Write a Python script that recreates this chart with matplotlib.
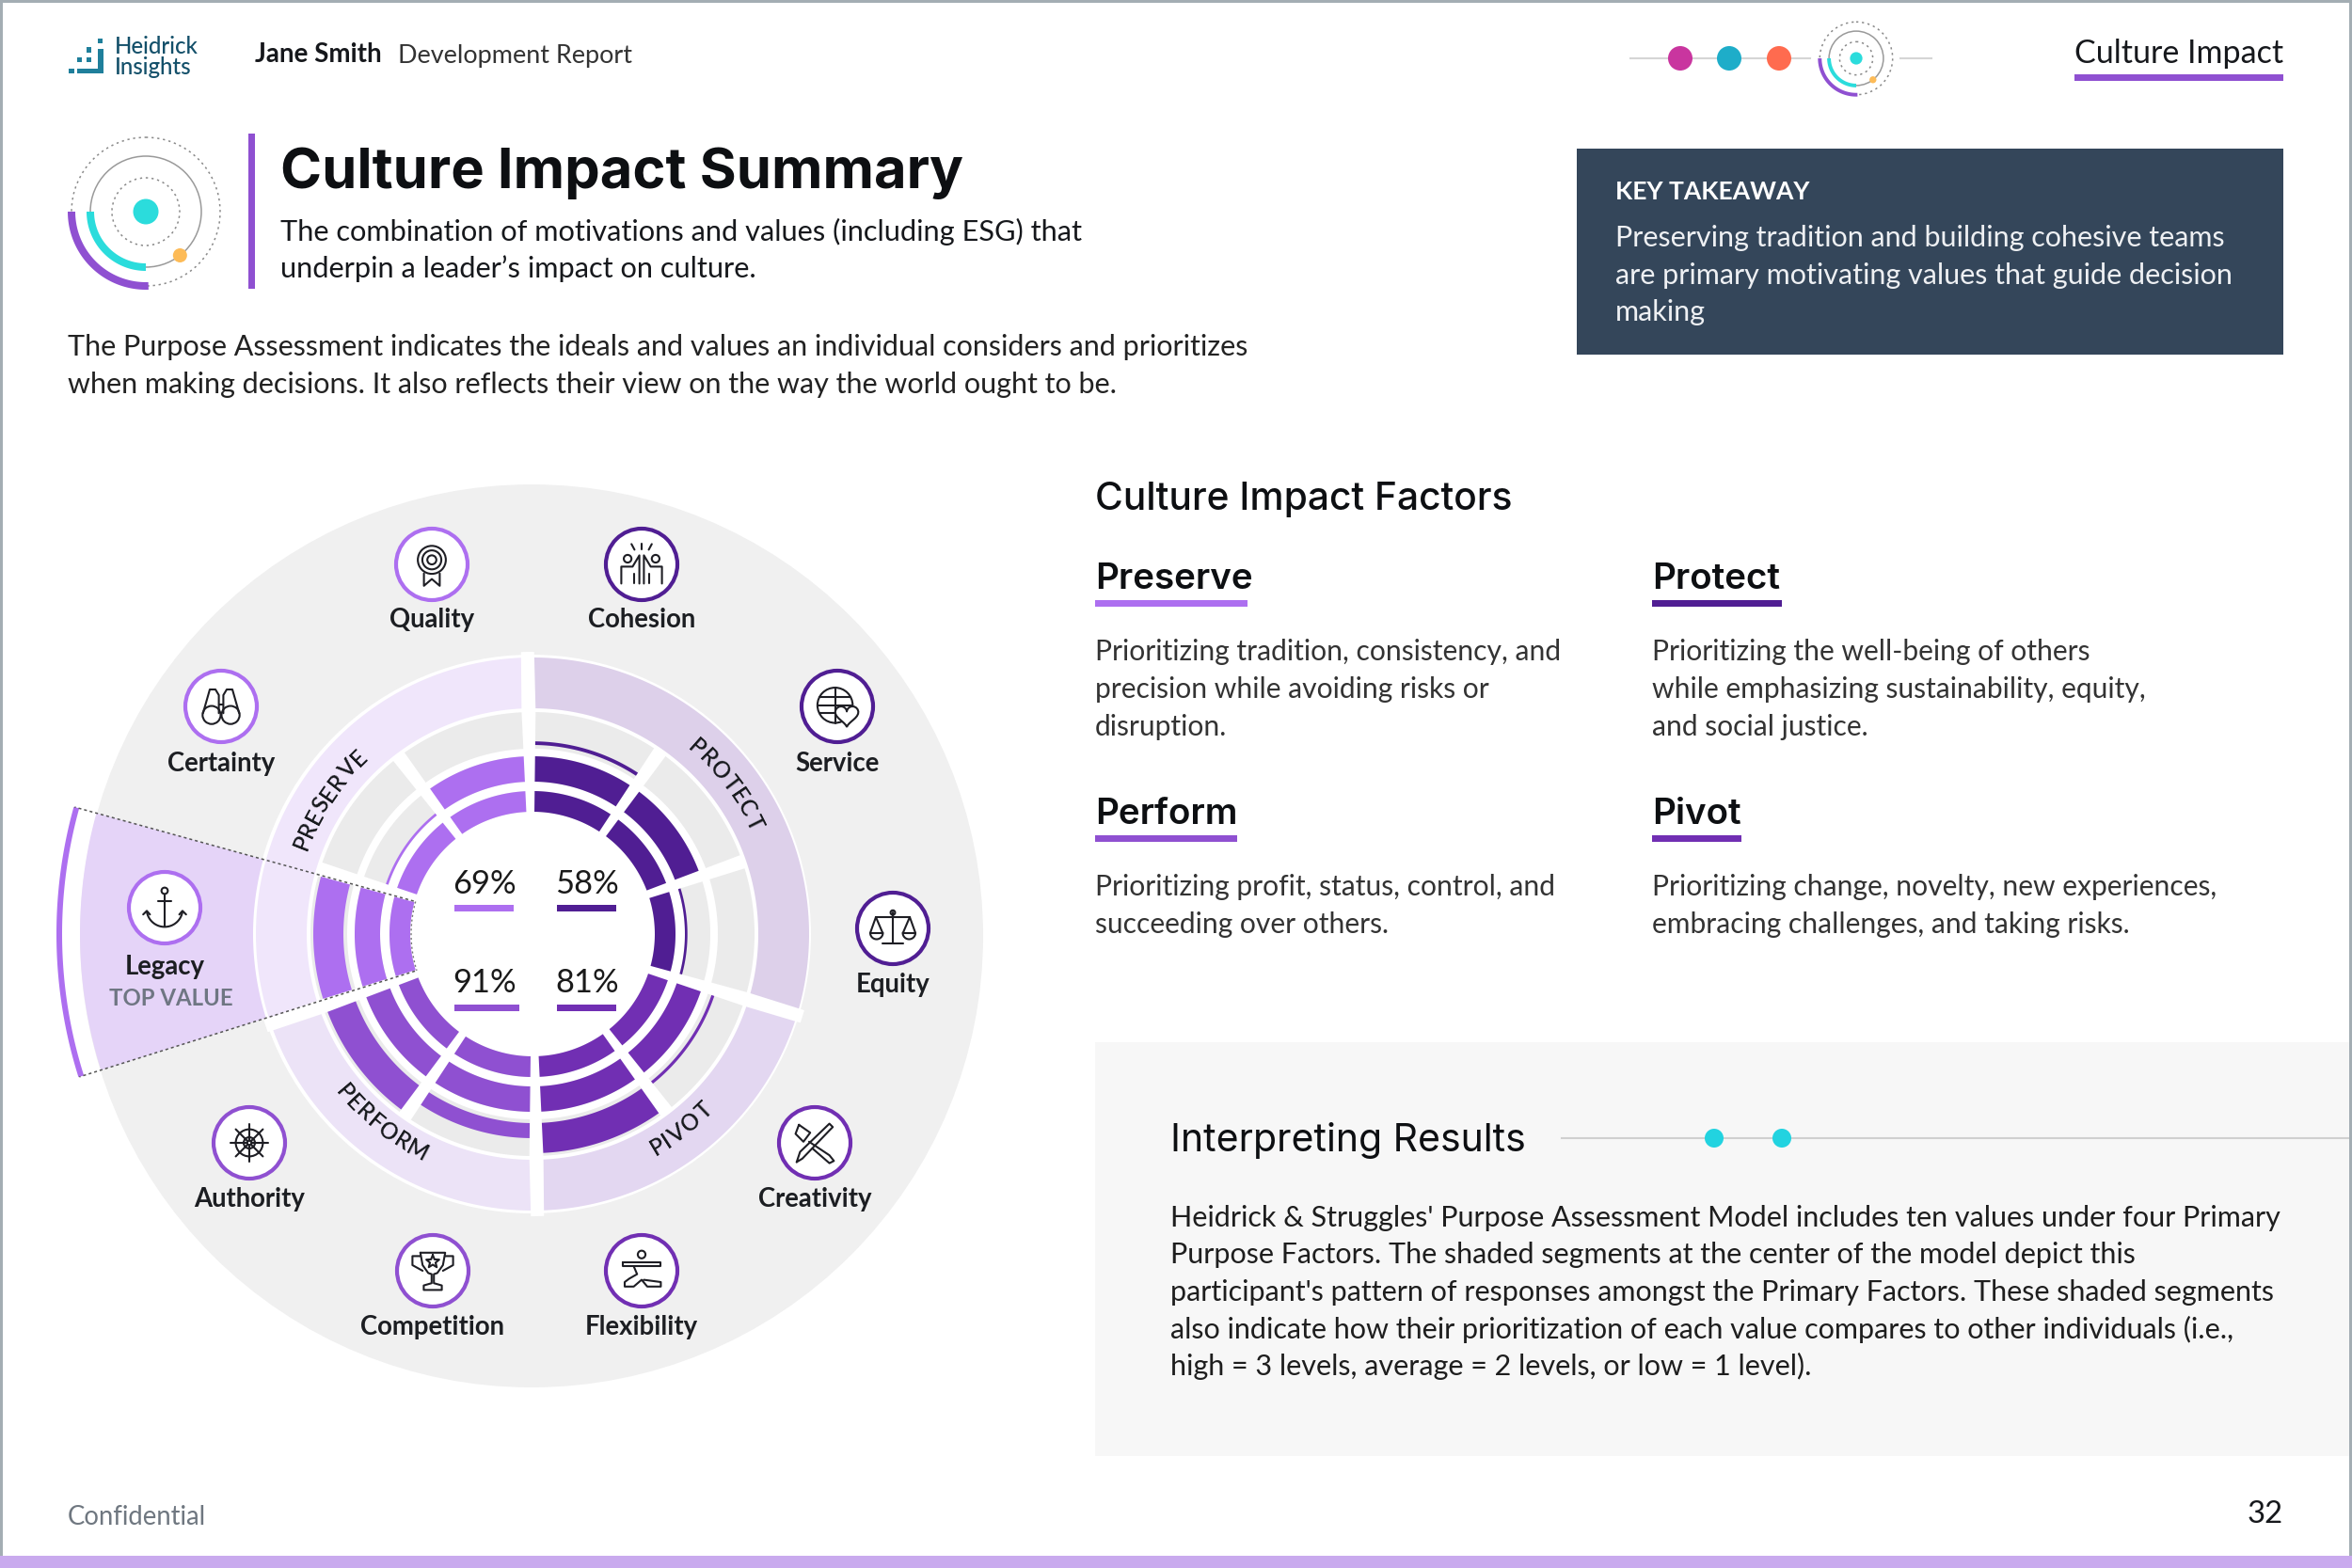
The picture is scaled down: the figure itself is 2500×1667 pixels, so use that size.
import numpy as np
import matplotlib
matplotlib.use('Agg')
import matplotlib.pyplot as plt
from matplotlib.patches import Circle, Rectangle
from matplotlib.font_manager import FontProperties
from matplotlib.textpath import TextPath

# factors, clockwise from the top
factors = ['PROTECT', 'PIVOT', 'PERFORM', 'PRESERVE']
factor_scores = [58, 81, 91, 69]
factor_sizes = [3, 2, 2, 3]   # number of values in each factor

# values clockwise from the top, with how full each of the 3 rings is
values = ['Cohesion', 'Service', 'Equity', 'Creativity', 'Flexibility',
          'Competition', 'Authority', 'Legacy', 'Certainty', 'Quality']
ring1 = [1, 1, 1, 1, 1, 1, 1, 1, 1, 1]
ring2 = [1, 1, 0.1, 1, 1, 1, 1, 1, 0.1, 1]
ring3 = [0.12, 0, 0, 0.1, 1, 0.5, 1, 1, 0, 0]

C_FACTOR = {'PROTECT': '#501e93', 'PIVOT': '#712fb3', 'PERFORM': '#8f50d1', 'PRESERVE': '#ad6ff0'}
C_BAND = {'PROTECT': '#ddd0ea', 'PIVOT': '#e3d7f1', 'PERFORM': '#ece3f7', 'PRESERVE': '#f0e6fb'}
INK = '#16181c'
BODY = 'Lato'
HEAD = 'Inter'
TEAL = '#2bdcdc'
ORANGE = '#fdbb57'
PURPLE = '#8f50d1'

fig = plt.figure(figsize=(25, 16.67), dpi=100)
ax = fig.add_axes([0, 0, 1, 1])
ax.set_xlim(0, 2500)
ax.set_ylim(1667, 0)
ax.axis('off')

CX, CY = 566, 993


def pt(r, deg, cx=CX, cy=CY):
    a = np.radians(deg)
    return cx + r * np.cos(a), cy - r * np.sin(a)


def band(r0, r1, a0, a1, color, z=2, cx=CX, cy=CY):
    th = np.linspace(a0, a1, 80)
    x0, y0 = pt(r0, th, cx, cy)
    x1, y1 = pt(r1, th[::-1], cx, cy)
    ax.fill(np.r_[x0, x1], np.r_[y0, y1], color=color, lw=0, zorder=z)


def txt(x, y, s, px, color=INK, family=BODY, weight='normal', ha='left', **kw):
    # text sits about 2px lower than its nominal centre in the reference
    ax.text(x, y + 2, s, fontsize=px * 0.72, color=color, family=family, weight=weight,
            ha=ha, va='center', **kw)


def gap(a, r0, w0, r1, w1):
    # white tapered spoke between two segments
    n = np.array([np.sin(np.radians(a)), np.cos(np.radians(a))])
    p0 = np.array(pt(r0, a))
    p1 = np.array(pt(r1, a))
    q = np.array([p0 + n * w0 / 2, p1 + n * w1 / 2, p1 - n * w1 / 2, p0 - n * w0 / 2])
    ax.fill(q[:, 0], q[:, 1], color='white', lw=0, zorder=5)


def orbit(cx, cy, k):
    for r, ls, col in [(79 * k, (0, (1.5, 2.5)), '#8a8a8a'), (59 * k, '-', '#9a9a9a'), (36 * k, (0, (1.5, 2.5)), '#8a8a8a')]:
        ax.add_patch(Circle((cx, cy), r, fill=False, ec=col, lw=1.1, ls=ls, zorder=3))
    band(75 * k, 83 * k, 180, 272, PURPLE, 4, cx, cy)
    band(55 * k, 63 * k, 180, 270, TEAL, 4, cx, cy)
    ax.add_patch(Circle((cx, cy), 13.5 * k, color=TEAL, lw=0, zorder=4))
    x, y = pt(59 * k, -52, cx, cy)
    ax.add_patch(Circle((x, y), 7.5 * k, color=ORANGE, lw=0, zorder=4))


# page frame
ax.add_patch(Rectangle((0, 0), 2500, 1667, fc='white', ec='none', zorder=0))
for r in [(0, 0, 2500, 3), (0, 0, 3, 1667), (2497, 0, 3, 1667)]:
    ax.add_patch(Rectangle(r[:2], r[2], r[3], fc='#a3adb3', ec='none', zorder=9))
ax.add_patch(Rectangle((0, 1654), 2500, 13, fc='#c9aaee', ec='none', zorder=9))

# header
for x, y, w, h in [(73, 73, 6, 5), (82, 73, 28, 5), (104, 52, 6, 26), (104, 41, 5, 5),
                   (92, 50, 5, 6), (82, 61, 5, 5), (92, 61, 5, 5)]:
    ax.add_patch(Rectangle((x, y), w, h, fc='#1f7f9b', ec='none', zorder=3))
txt(122, 47, 'Heidrick', 24, color='#14506a', weight='medium')
txt(122, 69, 'Insights', 24, color='#14506a', weight='medium')
txt(271, 56, 'Jane Smith', 27.8, weight='bold')
txt(423, 57, 'Development Report', 27, color='#333333')
ax.plot([1733, 1924], [62, 62], color='#d5d5d5', lw=1.5, zorder=1)
ax.plot([2020, 2053], [62, 62], color='#d5d5d5', lw=1.5, zorder=1)
for x, c in zip([1786, 1838, 1891], ['#c9359f', '#1eadc9', '#ff6b4f']):
    ax.add_patch(Circle((x, 62), 13, color=c, lw=0, zorder=3))
orbit(1973, 62, 0.49)
txt(2427, 55, 'Culture Impact', 34, ha='right')
ax.add_patch(Rectangle((2205, 79), 222, 7, fc=PURPLE, ec='none'))

# title block
orbit(155, 225, 1)
ax.add_patch(Rectangle((264, 142), 7, 165, fc=PURPLE, ec='none'))
txt(298, 182, 'Culture Impact Summary', 59.7, family=HEAD, weight='bold', color='#0d0f12')
txt(298, 244, 'The combination of motivations and values (including ESG) that', 30.75)
txt(298, 284, 'underpin a leader’s impact on culture.', 30.75)
txt(72, 367, 'The Purpose Assessment indicates the ideals and values an individual considers and prioritizes', 30.5, color='#222222')
txt(72, 407, 'when making decisions. It also reflects their view on the way the world ought to be.', 30.5, color='#222222')

# key takeaway
ax.add_patch(Rectangle((1676, 158), 751, 219, fc='#34465a', ec='none'))
txt(1717, 202, 'KEY TAKEAWAY', 26.5, color='white', weight='bold')
for y, s in zip([251, 291, 330], ['Preserving tradition and building cohesive teams',
                                  'are primary motivating values that guide decision',
                                  'making']):
    txt(1717, y, s, 30.5, color='#eef0f3')

# wheel
ax.add_patch(Circle((565, 995), 480, color='#f0f0f0', lw=0, zorder=1))
ax.add_patch(Circle((CX - 1, CY), 297, color='white', lw=0, zorder=1.5))

ROT = 1
STEP = 36
RINGS = [(130, 152), (162, 189), (201, 233)]
value_factor = []
for f, n in zip(factors, factor_sizes):
    value_factor += [f] * n

# outer factor bands
a = 90 + ROT
for f, n in zip(factors, factor_sizes):
    band(240, 294, a, a - n * STEP, C_BAND[f])
    a -= n * STEP

# rings per value
for i in range(len(values)):
    a0 = 90 + ROT - i * STEP
    a1 = a0 - STEP
    col = C_FACTOR[value_factor[i]]
    for k, ((r0, r1), lev) in enumerate(zip(RINGS, [ring1[i], ring2[i], ring3[i]])):
        if k == 2:
            band(197, 236, a0, a1, '#ebebeb', 3)
        else:
            band(r0, r1, a0, a1, '#ebebeb', 3)
        if lev > 0:
            band(r0, r0 + (r1 - r0) * lev, a0, a1, col, 4)
    gap(a0, 120, 8, 238, 15)

a = 90 + ROT
for n in factor_sizes:
    gap(a, 236, 15, 300, 14)
    a -= n * STEP

# highlighted top value
HL0, HL1 = 164.5, 197.5
band(297, 481, HL0, HL1, '#e5d4f8', 2.5)
band(500, 506, HL0, HL1, '#ad6ff0', 2.5)
for h in [HL0, HL1]:
    x, y = pt(np.array([131, 505]), h)
    ax.plot(x, y, color='#555555', lw=1.1, ls=(0, (2, 2)), zorder=6)
th = np.linspace(HL0, HL1, 30)
x, y = pt(129, th)
ax.plot(x, y, color='#777777', lw=1, ls=(0, (1.5, 2)), zorder=6)

# factor names following the band
fp = FontProperties(family=BODY, weight='semibold')


def arc_label(s, r, mid, size, flip=False):
    w = [TextPath((0, 0), c, size=size, prop=fp).get_extents().width + size * 0.13 for c in s]
    total = sum(w)
    pos = -total / 2
    for c, cw in zip(s, w):
        d = np.degrees((pos + cw / 2) / r)
        pos += cw
        ang = mid + d if flip else mid - d
        x, y = pt(r, ang)
        rot = ang + 90 if flip else ang - 90
        ax.text(x, y, c, fontsize=size * 0.72, color=INK, family=BODY, weight='semibold',
                rotation=rot, rotation_mode='anchor', ha='center', va='center', zorder=6)


arc_label('PRESERVE', 263, 146.5, 24)
arc_label('PROTECT', 264, 37.5, 24)
arc_label('PIVOT', 262, -52.5, 24, True)
arc_label('PERFORM', 261, 231.5, 24, True)

# scores in the middle
score_xy = {'PRESERVE': (513, 938, 483, 63, 962), 'PROTECT': (623, 938, 592, 63, 962),
            'PERFORM': (513, 1043, 483, 69, 1068), 'PIVOT': (623, 1043, 592, 63, 1068)}
for f, sc in zip(factors, factor_scores):
    x, y, lx, lw_, ly = score_xy[f]
    txt(lx + 32, y, '%d%%' % sc, 34.5, ha='center', color='#1a1a1a', zorder=7)
    ax.add_patch(Rectangle((lx, ly), lw_, 7, fc=C_FACTOR[f], ec='none', zorder=7))


# icons, local coords with y down, roughly -1..1
def icon(cx, cy, name):
    k = 24
    col = '#1e1e24'

    def L(xs, ys):
        ax.plot(cx + np.array(xs) * k, cy + np.array(ys) * k, color=col, lw=1.5, zorder=9,
                solid_capstyle='round', solid_joinstyle='round')

    def O(x, y, r):
        ax.add_patch(Circle((cx + x * k, cy + y * k), r * k, fill=False, ec=col, lw=1.5, zorder=9))

    def A(x, y, r, a0, a1):
        t = np.radians(np.linspace(a0, a1, 30))
        L(x + r * np.cos(t), y + r * np.sin(t))

    if name == 'Quality':
        O(0, -0.2, 0.62); O(0, -0.2, 0.42); O(0, -0.2, 0.2)
        L([-0.35, -0.35, 0, 0.35, 0.35], [0.4, 0.95, 0.65, 0.95, 0.4])
    elif name == 'Cohesion':
        O(-0.62, -0.25, 0.17); O(0.62, -0.25, 0.17)
        L([-0.9, -0.9, -0.4, -0.1, -0.1], [0.85, 0.1, 0.1, -0.4, 0.85])
        L([0.9, 0.9, 0.4, 0.1, 0.1], [0.85, 0.1, 0.1, -0.4, 0.85])
        L([-0.35, -0.35], [0.4, 0.85]); L([0.35, 0.35], [0.4, 0.85])
        for d in [-0.45, 0, 0.45]:
            L([d * 0.7, d], [-0.65, -0.9])
    elif name == 'Service':
        O(-0.1, -0.05, 0.78)
        L([-0.88, 0.68], [-0.05, -0.05]); L([-0.8, 0.6], [-0.4, -0.4]); L([-0.8, 0.3], [0.3, 0.3])
        L([-0.1, -0.1], [-0.83, 0.73])
        t = np.linspace(-np.pi, np.pi, 40)
        ax.fill(cx + (0.42 + 0.032 * 16 * np.sin(t) ** 3) * k,
                cy + (0.38 - 0.032 * (13 * np.cos(t) - 5 * np.cos(2 * t) - 2 * np.cos(3 * t) - np.cos(4 * t))) * k,
                fc='white', ec=col, lw=1.5, zorder=9)
    elif name == 'Equity':
        L([0, 0], [-0.7, 0.65]); L([-0.45, 0.45], [0.65, 0.65]); L([-0.75, 0.75], [-0.5, -0.5])
        O(0, -0.7, 0.1)
        for s in [-1, 1]:
            L([s * 0.75, s * 0.45], [-0.5, 0.2]); L([s * 0.75, s * 1.0], [-0.5, 0.2])
            A(s * 0.72, 0.2, 0.28, 0, 180)
            L([s * 0.44, s * 1.0], [0.2, 0.2])
    elif name == 'Creativity':
        L([-0.8, -0.65, 0.65, 0.8, 0.65, -0.55, -0.8], [0.85, 0.4, -0.85, -0.7, -0.55, 0.7, 0.85])
        L([-0.7, -0.2, -0.5, -0.85, -0.7], [-0.8, -0.45, -0.05, -0.4, -0.8])
        L([-0.25, 0.65, 0.85, 0.65, -0.1], [-0.05, 0.55, 0.8, 0.9, 0.25])
    elif name == 'Flexibility':
        O(0, -0.72, 0.17)
        L([-0.85, 0.85, 0.85, -0.85, -0.85], [-0.38, -0.38, -0.2, -0.2, -0.38])
        L([-0.35, -0.2, -0.55, -0.75, -0.75, -0.35, 0, 0.25, 0.85, 0.85, 0.1],
          [-0.2, 0.15, 0.35, 0.5, 0.7, 0.7, 0.4, 0.7, 0.7, 0.5, 0.4])
    elif name == 'Competition':
        L([-0.55, 0.55, 0.45, 0.2, 0.05, 0.05, 0.4, 0.4, -0.4, -0.4, -0.05, -0.05, -0.2, -0.45, -0.55],
          [-0.8, -0.8, -0.25, 0.1, 0.15, 0.55, 0.65, 0.85, 0.85, 0.65, 0.55, 0.15, 0.1, -0.25, -0.8])
        L([-0.55, -0.9, -0.9, -0.45], [-0.65, -0.65, -0.25, 0.0])
        L([0.55, 0.9, 0.9, 0.45], [-0.65, -0.65, -0.25, 0.0])
        t = np.radians(np.arange(0, 361, 36) - 90)
        rr = np.where(np.arange(11) % 2 == 0, 0.3, 0.13)
        L(rr * np.cos(t), -0.4 + rr * np.sin(t))
    elif name == 'Authority':
        O(0, 0, 0.6); O(0, 0, 0.25); O(0, 0, 0.1)
        for d in range(0, 360, 45):
            t = np.radians(d)
            L([0.1 * np.cos(t), 0.85 * np.cos(t)], [0.1 * np.sin(t), 0.85 * np.sin(t)])
    elif name == 'Legacy':
        O(0, -0.75, 0.14)
        L([0, 0], [-0.6, 0.85]); L([-0.3, 0.3], [-0.3, -0.3])
        A(0, 0.05, 0.8, 10, 170)
        L([-0.95, -0.79, -0.65], [0.3, 0.14, 0.3]); L([0.95, 0.79, 0.65], [0.3, 0.14, 0.3])
    elif name == 'Certainty':
        O(-0.42, 0.38, 0.4); O(0.42, 0.38, 0.4)
        L([-0.8, -0.5, -0.25, -0.1, -0.1], [0.3, -0.75, -0.75, -0.5, 0.3])
        L([0.8, 0.5, 0.25, 0.1, 0.1], [0.3, -0.75, -0.75, -0.5, 0.3])
        L([-0.1, 0.1], [-0.1, -0.1])


badges = {'Quality': (459, 600, 657), 'Cohesion': (682, 600, 657), 'Service': (890, 751, 810),
          'Equity': (949, 987, 1045), 'Creativity': (866, 1215, 1273), 'Flexibility': (682, 1351, 1409),
          'Competition': (460, 1351, 1409), 'Authority': (265, 1215, 1273), 'Legacy': (175, 965, 1026),
          'Certainty': (235, 751, 810)}
for v, f in zip(values, value_factor):
    x, y, ly = badges[v]
    ax.add_patch(Circle((x, y), 38, fc='white', ec=C_FACTOR[f], lw=3, zorder=8))
    icon(x, y, v)
    txt(x, ly, v, 27.5, ha='center', weight='bold', color='#1c1e22', zorder=8)
txt(182, 1059, 'TOP VALUE', 24, ha='center', weight='bold', color='#6f7683', zorder=8)

# right hand text
txt(1164, 529, 'Culture Impact Factors', 40.7, family=HEAD, weight='medium', color='#0d0f12')
blocks = [('Preserve', 1164, 614, 162, 'PRESERVE', ['Prioritizing tradition, consistency, and', 'precision while avoiding risks or', 'disruption.']),
          ('Protect', 1756, 614, 138, 'PROTECT', ['Prioritizing the well-being of others', 'while emphasizing sustainability, equity,', 'and social justice.']),
          ('Perform', 1164, 864, 151, 'PERFORM', ['Prioritizing profit, status, control, and', 'succeeding over others.']),
          ('Pivot', 1756, 864, 95, 'PIVOT', ['Prioritizing change, novelty, new experiences,', 'embracing challenges, and taking risks.'])]
for name, x, y, w, f, lines in blocks:
    txt(x, y, name, 38.5, family=HEAD, weight='semibold', color='#0d0f12')
    ax.add_patch(Rectangle((x, y + 24), w, 7, fc=C_FACTOR[f], ec='none'))
    for j, s in enumerate(lines):
        txt(x, y + 77 + j * 40, s, 30, color='#333333')

ax.add_patch(Rectangle((1164, 1108), 1336, 440, fc='#f7f7f7', ec='none', zorder=1))
txt(1244, 1210, 'Interpreting Results', 41, family=HEAD, weight='normal', color='#0d0f12')
ax.plot([1660, 2497], [1210, 1210], color='#d0d0d0', lw=1.5, zorder=2)
for x in [1822, 1894]:
    ax.add_patch(Circle((x, 1210), 10, color='#22d3e0', lw=0, zorder=3))
interp = ["Heidrick & Struggles' Purpose Assessment Model includes ten values under four Primary",
          "Purpose Factors. The shaded segments at the center of the model depict this",
          "participant's pattern of responses amongst the Primary Factors. These shaded segments",
          "also indicate how their prioritization of each value compares to other individuals (i.e.,",
          "high = 3 levels, average = 2 levels, or low = 1 level)."]
for y, s in zip([1293, 1332, 1372, 1411, 1450], interp):
    txt(1244, y, s, 30.5, color='#1e1e1e')

txt(72, 1611, 'Confidential', 27.5, color='#6f7780')
txt(2427, 1608, '32', 33, ha='right')

fig.savefig('out.png', dpi=100)
